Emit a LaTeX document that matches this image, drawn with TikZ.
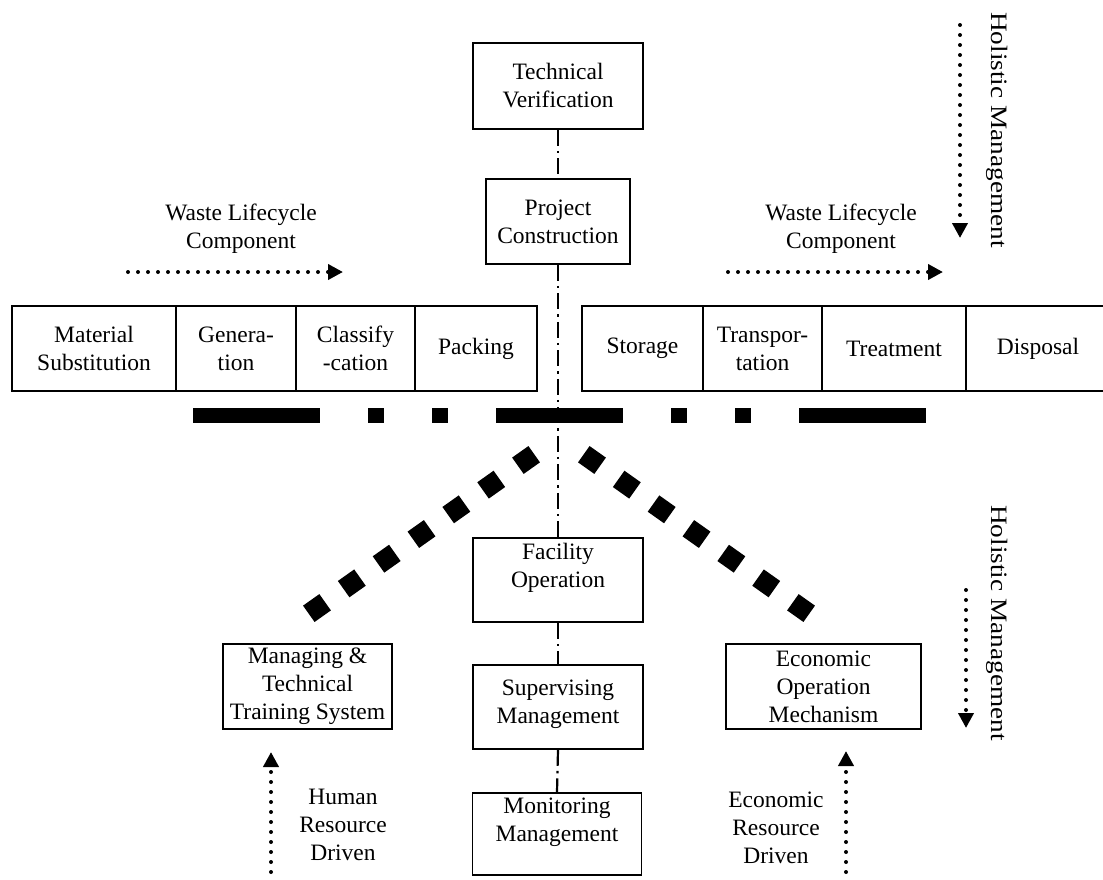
\documentclass[tikz,border=0pt]{standalone}
\usepackage{fontspec}
\setmainfont{Liberation Serif}
\usepackage{graphicx}
\usetikzlibrary{arrows.meta}
\begin{document}
\begin{tikzpicture}[x=1pt,y=-1pt,
  every node/.style={font=\fontsize{23.5}{28}\selectfont, inner sep=0pt, align=center},
  box/.style={draw, line width=1.8pt},
  dashdot/.style={line width=2.2pt, dash pattern=on 16pt off 5pt on 2.5pt off 5pt},
  dots/.style={line width=4pt, line cap=round, dash pattern=on 0pt off 10pt, -{Triangle[length=15pt,width=15pt]}},
  bigdash/.style={line width=15pt, dash pattern=on 127pt off 48pt on 16pt off 48pt on 16pt off 48pt},
  diag/.style={line width=20pt, dash pattern=on 20pt off 22.7pt}
]
\useasboundingbox (0,0) rectangle (1103,879);

% top column
\node[box, minimum width=170pt, minimum height=86pt] (tv) at (558,86) {Technical\\Verification};
\node[box, minimum width=144pt, minimum height=85pt] (pc) at (558,221.5) {Project\\Construction};

% row of lifecycle boxes
\node[box, minimum width=164pt, minimum height=85pt] (ms) at (94,348.5) {Material\\Substitution};
\node[box, minimum width=120pt, minimum height=85pt] (gen) at (236,348.5) {Genera-\\tion};
\node[box, minimum width=119pt, minimum height=85pt] (cls) at (355.5,348.5) {Classify\\-cation};
\node[box, minimum width=122pt, minimum height=85pt] (pack) at (476,348.5) {Packing};
\node[box, minimum width=121pt, minimum height=85pt] (sto) at (642.5,348.5) {Storage};
\node[box, minimum width=119pt, minimum height=85pt] (tra) at (762.5,348.5) {Transpor-\\tation};
\node[box, minimum width=144pt, minimum height=85pt] (trt) at (894,348.5) {Treatment};
\node[box, minimum width=144pt, minimum height=85pt] (dis) at (1038,348.5) {Disposal};

% lower column
\node[box, minimum width=170pt, minimum height=84pt] (fo) at (558,580) {};
\node (fot) at (558,568) {Facility\\Operation};
\node[box, minimum width=170pt, minimum height=84pt] (sm) at (558,707) {};
\node (smt) at (558,704) {Supervising\\Management};
\node[box, minimum width=169pt, minimum height=82pt] (mm) at (557,834) {};
\node (mmt) at (557,822) {Monitoring\\Management};

\node[box, minimum width=169pt, minimum height=85pt] (mt) at (307.5,686.5) {Managing \&\\Technical\\Training System};
\node[box, minimum width=195pt, minimum height=85pt] (eo) at (823.5,686.5) {Economic\\Operation\\Mechanism};

% dash-dot spine
\draw[dashdot] (tv.south) -- (pc.north);
\draw[dashdot] (pc.south) -- (fo.north);
\draw[dashdot] (fo.south) -- (sm.north);
\draw[dashdot] (sm.south) -- (mm.north);

% thick dash-dot-dot bar
\draw[bigdash] (193,415.5) -- (928,415.5);

% diagonal square lines
\draw[diag] (308.8,613.8) -- (534.2,454.2);
\draw[diag] (583.8,454.2) -- (809.2,613.8);

% labels and arrows
\node (wl1) at (241,229) {Waste Lifecycle\\Component};
\node (wl2) at (841,229) {Waste Lifecycle\\Component};
\coordinate (a1s) at (128,272); \coordinate (a1e) at (343,272);
\coordinate (a2s) at (728,272); \coordinate (a2e) at (943,272);
\draw[dots] (a1s) -- (a1e);
\draw[dots] (a2s) -- (a2e);

\node[rotate=-90] (hm1) at (997,130) {\scalebox{1.16}[1]{Holistic Management}};
\coordinate (h1s) at (960,25); \coordinate (h1e) at (960,238);
\draw[dots] (h1s) -- (h1e);
\node[rotate=-90] (hm2) at (997,623) {\scalebox{1.16}[1]{Holistic Management}};
\coordinate (h2s) at (966,590); \coordinate (h2e) at (966,728);
\draw[dots] (h2s) -- (h2e);

\node (hr) at (343,825) {Human\\Resource\\Driven};
\node (er) at (776,828) {Economic\\Resource\\Driven};
\coordinate (hrs) at (271,892); \coordinate (hre) at (271,752);
\coordinate (ers) at (846,892); \coordinate (ere) at (846,751);
\draw[dots] (hrs) -- (hre);
\draw[dots] (ers) -- (ere);
\end{tikzpicture}
\end{document}
